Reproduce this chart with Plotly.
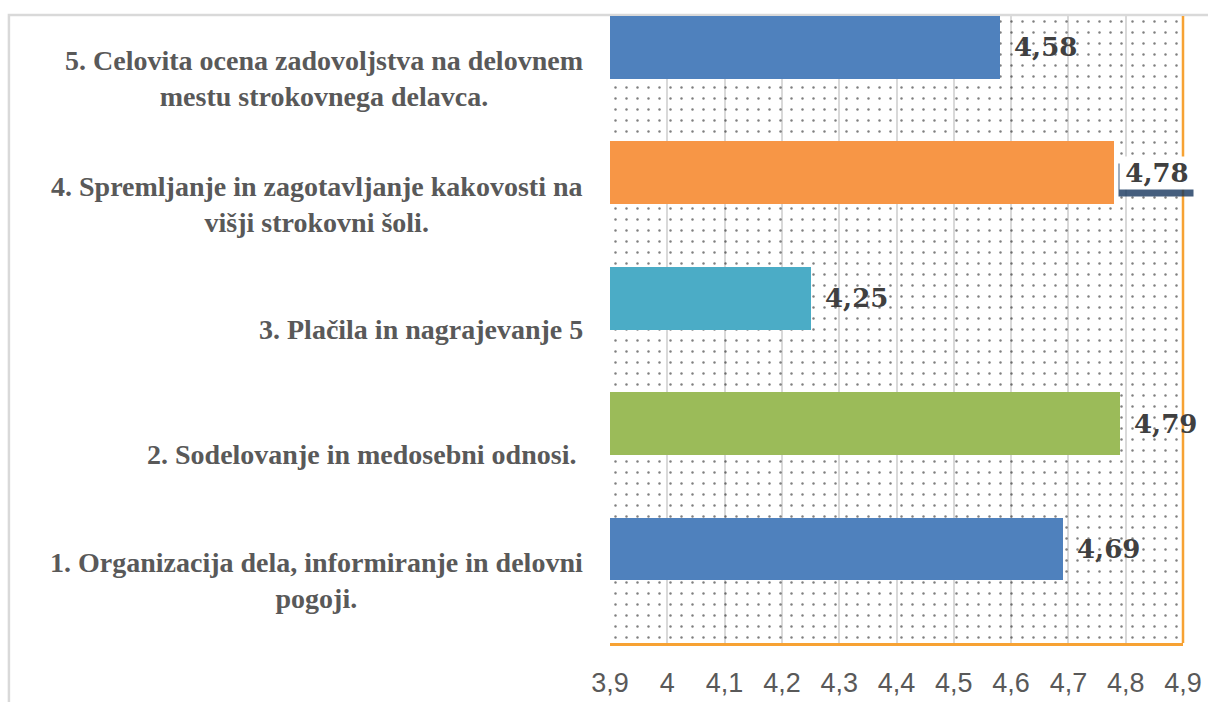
import plotly.graph_objects as go

# ---- data ----
categories = [
    "1. Organizacija dela, informiranje in delovni<br>pogoji.",
    "2. Sodelovanje in medosebni odnosi. ",
    "3. Plačila in nagrajevanje 5",
    "4. Spremljanje in zagotavljanje kakovosti na<br>višji strokovni šoli.",
    "5. Celovita ocena zadovoljstva na delovnem<br>mestu strokovnega delavca.",
]
values = [4.69, 4.79, 4.25, 4.78, 4.58]
value_labels = ["4,69", "4,79", "4,25", "4,78", "4,58"]
bar_colors = ["#4F81BD", "#9BBB59", "#4BACC6", "#F79646", "#4F81BD"]
x_range = [3.9, 4.9]
tick_vals = [3.9, 4.0, 4.1, 4.2, 4.3, 4.4, 4.5, 4.6, 4.7, 4.8, 4.9]
tick_text = ["3,9", "4", "4,1", "4,2", "4,3", "4,4", "4,5", "4,6", "4,7", "4,8", "4,9"]
boxed_label = "4,78"

positions = list(range(len(categories)))

fig = go.Figure()

# dotted plot-area background
fig.add_trace(go.Bar(
    orientation="h",
    y=[(len(categories) - 1) / 2],
    x=[x_range[1] - x_range[0]],
    base=[x_range[0]],
    width=[len(categories)],
    marker=dict(
        color="rgba(255,255,255,0)",
        line=dict(width=0),
        pattern=dict(shape=".", fgcolor="#000000", size=11, solidity=0.04,
                     fillmode="overlay"),
    ),
    hoverinfo="skip",
    showlegend=False,
))

# data bars
fig.add_trace(go.Bar(
    orientation="h",
    y=positions,
    x=[v - x_range[0] for v in values],
    base=[x_range[0]] * len(values),
    width=0.5,
    offset=0,
    marker=dict(color=bar_colors, line=dict(width=0)),
    showlegend=False,
))

annotations = []
# category labels
for p, c in zip(positions, categories):
    annotations.append(dict(
        x=-0.044, xref="paper", y=p, yref="y",
        text=c, showarrow=False, xanchor="right", yanchor="middle",
        align="center",
        font=dict(family="Liberation Serif", size=28, color="#595959", weight="bold"),
    ))

# value labels
label_font = dict(family="DejaVu Serif", size=26, color="#404040", weight="bold")
for p, v, t in zip(positions, values, value_labels):
    if t == boxed_label:
        # shadow of the label box
        annotations.append(dict(
            x=v, y=p + 0.25, xref="x", yref="y", text=" ", showarrow=False,
            xanchor="left", yanchor="middle", xshift=4, yshift=-7,
            width=74, height=32, bgcolor="#17375E", borderpad=0, opacity=0.8,
        ))
        annotations.append(dict(
            x=v, y=p + 0.25, xref="x", yref="y", text=t, showarrow=False,
            xanchor="left", yanchor="middle", xshift=5,
            width=74, height=32, bgcolor="#FFFFFF", borderpad=0,
            font=label_font,
        ))
    else:
        annotations.append(dict(
            x=v, y=p + 0.25, xref="x", yref="y", text=t, showarrow=False,
            xanchor="left", yanchor="middle", xshift=12,
            font=label_font,
        ))

shapes = [
    # outer chart border
    dict(type="rect", xref="paper", yref="paper", x0=-1.049, x1=1.08, y0=-0.15, y1=1.0016,
         line=dict(color="#D9D9D9", width=2.5), layer="below"),
    # orange right border of plot area
    dict(type="line", xref="paper", yref="paper", x0=1, x1=1, y0=0, y1=1,
         line=dict(color="#F7A233", width=2.5)),
]

fig.update_layout(
    width=1208, height=702,
    margin=dict(l=610, r=25, t=16, b=59),
    paper_bgcolor="white",
    plot_bgcolor="white",
    barmode="overlay",
    bargap=0,
    separators=", ",
    annotations=annotations,
    shapes=shapes,
    showlegend=False,
)
fig.update_xaxes(
    range=x_range,
    tickvals=tick_vals, ticktext=tick_text,
    showgrid=True, gridcolor="#D9D9D9", gridwidth=2,
    showline=True, linecolor="#F7A233", linewidth=2.5,
    zeroline=False, ticks="", ticklabelstandoff=14,
    tickfont=dict(family="Liberation Sans", size=27, color="#595959"),
    fixedrange=True, automargin=False,
)
fig.update_yaxes(
    range=[-0.5, len(categories) - 0.5],
    showticklabels=False, showgrid=False, zeroline=False, showline=False,
    fixedrange=True, automargin=False,
)

fig.write_html(
    "out.html",
    config={"displayModeBar": False},
    post_script="document.body.style.margin='0';document.body.style.overflow='hidden';",
)
